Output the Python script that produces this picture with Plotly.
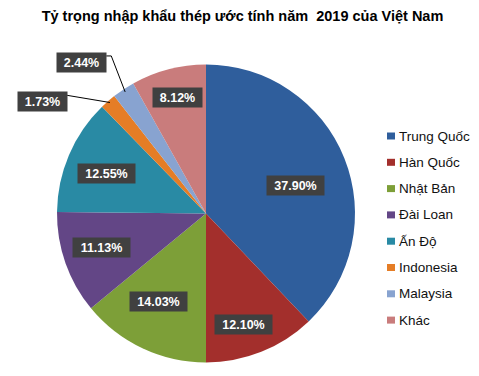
import math
import plotly.graph_objects as go

# ---- data ----
labels = ["Trung Quốc", "Hàn Quốc", "Nhật Bản", "Đài Loan", "Ấn Độ", "Indonesia", "Malaysia", "Khác"]
values = [37.90, 12.10, 14.03, 11.13, 12.55, 1.73, 2.44, 8.12]
title_text = "Tỷ trọng nhập khẩu thép ước tính năm  2019 của Việt Nam"

# ---- style / layout ----
colors = ["#2F5E9C", "#A32F2C", "#7D9F38", "#634686", "#298AA4", "#E57D26", "#88A3D0", "#C97C7C"]
W, H = 479, 376
CX, CY, R = 206, 213.5, 149          # pie centre / radius in px
FONT = "Liberation Sans, Arial, sans-serif"

# label placement: radius factor and angular nudge (deg) relative to slice middle
label_rf = [0.63, 0.79, 0.67, 0.74, 0.72, 1.33, 1.31, 0.80]
label_da = [4.5, 3.0, 3.3, 1.5, -1.2, -14.4, -5.9, 0.6]


def px2paper(x, y):
    return x / W, 1 - y / H


def polar(theta_deg, r):
    t = math.radians(theta_deg)
    return CX + r * math.sin(t), CY - r * math.cos(t)


fig = go.Figure(
    go.Pie(
        labels=labels,
        values=values,
        sort=False,
        direction="clockwise",
        rotation=0,
        marker=dict(colors=colors, line=dict(width=0)),
        textinfo="none",
        hoverinfo="label+percent",
        showlegend=False,
        domain=dict(x=[(CX - R) / W, (CX + R) / W], y=[1 - (CY + R) / H, 1 - (CY - R) / H]),
    )
)

total = sum(values)
annotations = []
shapes = []
cum = 0.0
for i, v in enumerate(values):
    mid = (cum + v / 2) / total * 360
    cum += v
    txt = f"{v:.2f}%"
    lx, ly = polar(mid + label_da[i], R * label_rf[i])
    bw = 8 * len(txt) + 5
    if label_rf[i] > 1:
        # leader line: slice edge -> box corner
        ex, ey = polar(mid, R * 0.98)
        bx, by = lx + bw / 2 + 2, ly - 7
        if i == 6:
            path = f"M {ex/W},{1-ey/H} L {(bx+5)/W},{1-by/H} L {bx/W},{1-by/H}"
        else:
            path = f"M {ex/W},{1-(ey-1)/H} L {bx/W},{1-(by+1)/H}"
        shapes.append(dict(type="path", xref="paper", yref="paper", path=path,
                           line=dict(color="#000000", width=1)))
    ax_, ay_ = px2paper(lx, ly)
    annotations.append(dict(
        x=ax_, y=ay_, xref="paper", yref="paper", text=txt, showarrow=False,
        font=dict(family=FONT, size=12.5, color="white", weight="bold"),
        bgcolor="#404040", width=bw, height=15, borderpad=2,
        xanchor="center", yanchor="middle",
    ))

# manual legend (Excel-like spacing)
for i, lab in enumerate(labels):
    yy = 136 + 26.3 * i
    shapes.append(dict(type="rect", xref="paper", yref="paper",
                       x0=387 / W, x1=395 / W, y0=1 - (yy + 3.5) / H, y1=1 - (yy - 3.5) / H,
                       fillcolor=colors[i], line=dict(width=0)))
    annotations.append(dict(
        x=397 / W, y=1 - yy / H, xref="paper", yref="paper", text=lab, showarrow=False,
        xanchor="left", yanchor="middle",
        font=dict(family=FONT, size=13.5, color="#111111"),
    ))

fig.update_layout(
    width=W, height=H,
    margin=dict(l=0, r=0, t=0, b=0),
    paper_bgcolor="white", plot_bgcolor="white",
    title=dict(text=title_text, x=242.5 / W, y=1 - 15.5 / H, xanchor="center", yanchor="middle",
               font=dict(family=FONT, size=14.5, color="#000000", weight="bold")),
    annotations=annotations,
    shapes=shapes,
)

fig.write_html(
    "out.html",
    config={"displayModeBar": False},
    post_script="document.body.style.margin='0';document.body.style.overflow='hidden';",
)
